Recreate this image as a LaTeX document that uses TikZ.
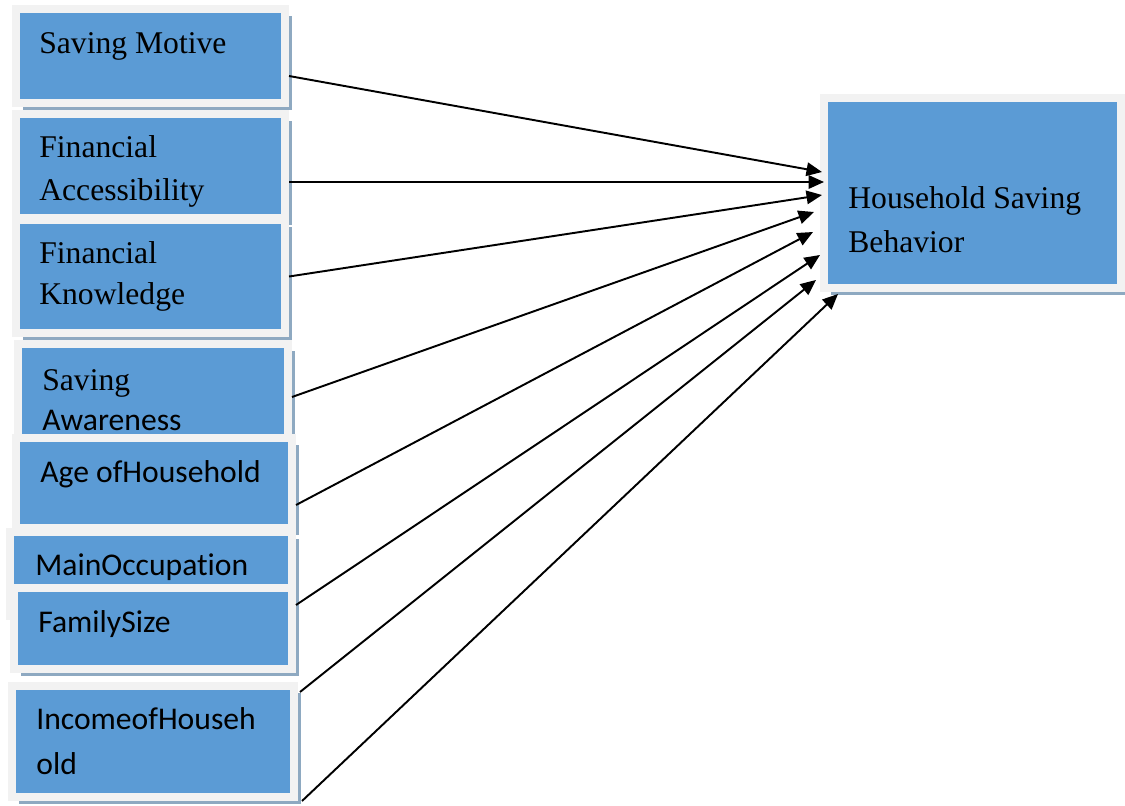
\documentclass[tikz,border=0pt]{standalone}
\usepackage{fontspec}
\setmainfont{Liberation Serif}
\newfontfamily\calibri[RawFeature={-liga;-clig;-calt;-dlig}]{Carlito}
\usetikzlibrary{arrows.meta,positioning,fit,shadows}
\definecolor{boxblue}{HTML}{5B9BD5}
\definecolor{framegray}{HTML}{F2F2F2}
\definecolor{shadowblue}{HTML}{8EA9C1}

\begin{document}
\begin{tikzpicture}[
    x=0.02cm, y=-0.02cm,
    box/.style={fill=boxblue, draw=framegray, line width=0.16cm, inner sep=0pt,
      drop shadow={shadow xshift=0.14cm, shadow yshift=-0.14cm, fill=shadowblue, opacity=1}},
    serif/.style={font=\fontsize{18}{25}\selectfont, anchor=base west, inner sep=0pt},
    sans/.style={font=\calibri\fontsize{18}{25}\selectfont, anchor=base west, inner sep=0pt},
    arr/.style={-{Triangle[length=0.31cm, width=0.27cm]}, line width=1.1pt}
  ]
    \useasboundingbox (0,0) rectangle (1125,805);

    % left column of factors
    \node[box, fit={(16,9) (285,103)}] (sm) {};
    \node[serif] (smT) at (39,53) {Saving Motive};

    \node[box, fit={(16,114) (285,218)}] (fa) {};
    \node[serif] (faT1) at (39,157) {Financial};
    \node[serif] (faT2) at (39,200) {Accessibility};

    \node[box, fit={(16,220) (285,333)}] (fk) {};
    \node[serif] (fkT1) at (39,263) {Financial};
    \node[serif] (fkT2) at (39,304) {Knowledge};

    \node[box, fit={(18,344) (288,450)}] (sa) {};
    \node[serif] (saT1) at (42,390) {Saving};
    \node[sans] (saT2) at (42,430) {Awareness};

    \node[box, fit={(16,438) (292,528)}] (age) {};
    \node[sans] (ageT) at (40,482) {Age ofHousehold};

    \node[box, fit={(10,532) (292,616)}] (mo) {};
    \node[sans] (moT) at (35,575) {MainOccupat\kern0pt ion};

    \node[box, fit={(14,588) (292,669)}] (fs) {};
    \node[sans] (fsT) at (38,632) {FamilySize};

    \node[box, fit={(12,686) (294,797)}] (inc) {};
    \node[sans] (incT1) at (36,729) {IncomeofHouseh};
    \node[sans] (incT2) at (36,774) {old};

    % outcome
    \node[box, fit={(824,98) (1121,288)}] (hsb) {};
    \node[serif] (hsbT1) at (848,208) {Household Saving};
    \node[serif] (hsbT2) at (848,252) {Behavior};

    % arrow tips at the outcome box
    \coordinate (t1) at (822,172);
    \coordinate (t2) at (824,182);
    \coordinate (t3) at (822,195);
    \coordinate (t4) at (814,212);
    \coordinate (t5) at (813,232);
    \coordinate (t6) at (820,255);
    \coordinate (t7) at (816,280);
    \coordinate (t8) at (838,294);

    \draw[arr] ([yshift=-0.4cm]sm.east) -- (t1);
    \draw[arr] ([yshift=-0.32cm]fa.east) -- (t2);
    \draw[arr] (fk.east) -- (t3);
    \draw[arr] (sa.east) -- (t4);
    \draw[arr] ([yshift=-0.44cm]age.east) -- (t5);
    \draw[arr] ([yshift=-0.62cm]mo.east) -- (t6);
    \draw[arr] ([shift={(0.08cm,-0.38cm)}]fs.south east) -- (t7);
    \draw[arr] ([xshift=0.08cm]inc.south east) -- (t8);
  \end{tikzpicture}
\end{document}
